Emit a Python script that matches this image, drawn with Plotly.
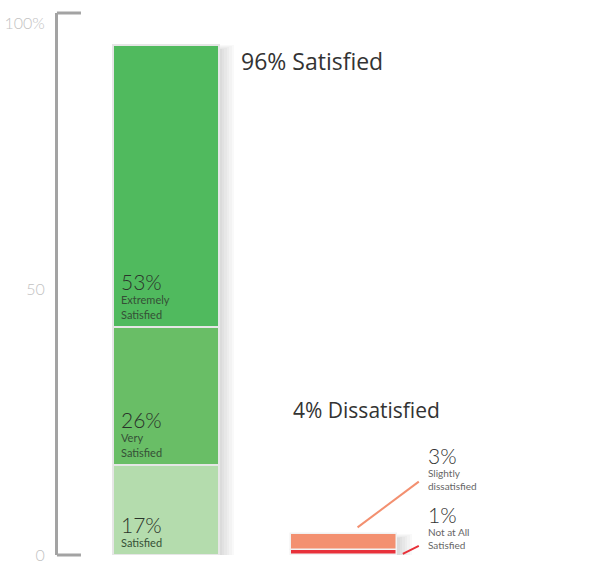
import numpy as np
import plotly.graph_objects as go

# ---- data ----
groups = ["Satisfied", "Dissatisfied"]
sat_labels = ["Satisfied", "Very<br>Satisfied", "Extremely<br>Satisfied"]
sat_values = [17, 26, 53]
sat_colors = ["#B4DCAD", "#69BE66", "#50BA5E"]
dis_labels = ["Not at All<br>Satisfied", "Slightly<br>dissatisfied"]
dis_values = [1, 3]
dis_colors = ["#E8313A", "#F39070"]
tick_vals = [0, 50, 100]
tick_text = ["0", "50", "100%"]

BW = 0.6
fig = go.Figure()

sat_base = np.concatenate([[0], np.cumsum(sat_values)[:-1]])
dis_base = np.concatenate([[0], np.cumsum(dis_values)[:-1]])
sat_total = int(sum(sat_values))
dis_total = int(sum(dis_values))

# soft shadows
for k in range(1, 7):
    for xi, tot in [(0, sat_total), (1, dis_total)]:
        fig.add_trace(go.Bar(
            x=[xi], y=[tot + 0.15 * k], base=[-1.0],
            width=[BW + 0.014 * k], offset=-BW / 2,
            marker=dict(color="rgba(0,0,0,0.022)", line=dict(width=0)),
            hoverinfo="skip", showlegend=False))

for v, b, c in zip(sat_values, sat_base, sat_colors):
    fig.add_trace(go.Bar(x=[0], y=[v], base=[b], width=[BW],
                         marker=dict(color=c, line=dict(color="#e6e6e6", width=2)),
                         showlegend=False))
for v, b, c in zip(dis_values, dis_base, dis_colors):
    fig.add_trace(go.Bar(x=[1], y=[v], base=[b], width=[BW],
                         marker=dict(color=c, line=dict(color="#f2f2f2", width=1.5)),
                         showlegend=False))

ann = []
# labels inside the satisfied bar
for v, b, lab in zip(sat_values, sat_base, sat_labels):
    ann.append(dict(
        x=-BW / 2, y=b, xref="x", yref="y", xanchor="left", yanchor="bottom",
        xshift=6, yshift=4, showarrow=False, align="left",
        text=f"<span style='font-size:21px;color:#2b332b;font-weight:300'>{v}%</span><br>{lab}",
        font=dict(family="Lato", size=11, color="#355036")))

# dissatisfied labels
dis_yshift = [-3, 40]
for v, b, lab, ys in zip(dis_values, dis_base, dis_labels, dis_yshift):
    ann.append(dict(
        x=1 + BW / 2, y=b + v, xref="x", yref="y", xanchor="left", yanchor="bottom",
        xshift=29, yshift=ys, showarrow=False, align="left",
        text=f"<span style='font-size:21px;color:#333;font-weight:300'>{v}%</span><br>{lab}",
        font=dict(family="Lato", size=10, color="#666")))

# headings
ann.append(dict(x=BW / 2, y=sat_total, xref="x", yref="y", xanchor="left", yanchor="top",
                xshift=20, yshift=2, showarrow=False,
                text=f"{sat_total}% Satisfied",
                font=dict(family="Open Sans", size=23, color="#333")))
ann.append(dict(x=1 - BW / 2, y=dis_total, xref="x", yref="y", xanchor="left", yanchor="bottom",
                xshift=0, yshift=108, showarrow=False,
                text=f"{dis_total}% Dissatisfied",
                font=dict(family="Open Sans", size=21, color="#333")))

shapes = [
    # axis bracket ticks
    dict(type="line", xref="paper", yref="paper", x0=-0.002, x1=0.043, y0=1, y1=1,
         line=dict(color="#a3a3a3", width=3)),
    dict(type="line", xref="paper", yref="paper", x0=-0.002, x1=0.043, y0=0, y1=0,
         line=dict(color="#a3a3a3", width=3)),
    # leader lines
    dict(type="line", xref="x", yref="y", x0=1.076, y0=dis_total + 1.2, x1=1.42, y1=dis_total + 9.8,
         line=dict(color="#F39070", width=2)),
    dict(type="line", xref="x", yref="y", x0=1.33, y0=0.2, x1=1.42, y1=1.7,
         line=dict(color="#E8313A", width=2)),
]

fig.update_layout(
    width=592, height=565,
    margin=dict(l=58, r=0, t=13, b=10),
    paper_bgcolor="white", plot_bgcolor="white",
    barmode="overlay", bargap=0,
    showlegend=False,
    annotations=ann, shapes=shapes,
    xaxis=dict(range=[-0.607, 2.393], visible=False, fixedrange=True, automargin=False),
    yaxis=dict(range=[0, 102], tickvals=tick_vals, ticktext=tick_text,
               showgrid=False, zeroline=False, showline=True, automargin=False,
               linecolor="#a3a3a3", linewidth=3, ticks="",
               ticklabelstandoff=7, ticklabeloverflow="allow",
               tickfont=dict(family="Lato", size=16, color="#c2c2c2", weight=300)),
)

fig.write_html(
    "out.html",
    config={"displayModeBar": False},
    post_script="document.body.style.margin='0';document.body.style.overflow='hidden';",
)
